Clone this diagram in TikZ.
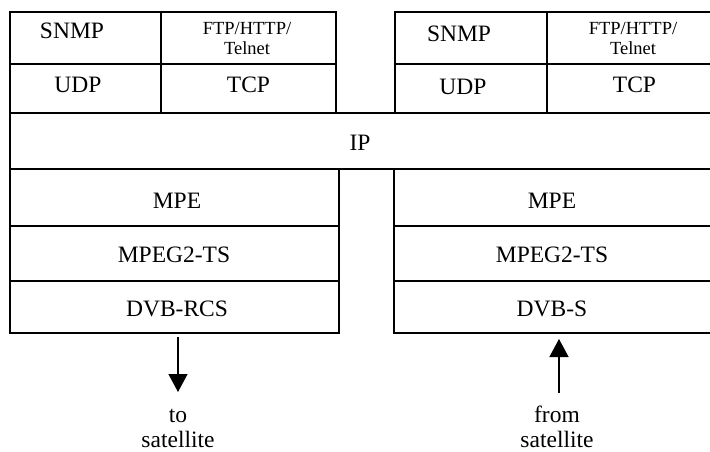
\documentclass[tikz,border=0pt]{standalone}
\usepackage{fontspec}
\setmainfont{Liberation Serif}
\usetikzlibrary{arrows.meta}
\begin{document}
\begin{tikzpicture}[x=1pt,y=-1pt,
  cell/.style={draw=black,line width=1.3pt,rectangle,inner sep=0pt,outer sep=0pt,anchor=north west},
  lbl/.style={anchor=base,inner sep=0pt,font=\fontsize{23.5}{28}\selectfont},
  sml/.style={anchor=base,inner sep=0pt,font=\fontsize{18.5}{22}\selectfont},
  arr/.style={line width=1.3pt,-{Triangle[width=19pt,length=18pt]}}]
\useasboundingbox (0,0) rectangle (710,452);
\fill[white] (0,0) rectangle (710,452);
% left upper stack
\node[cell,minimum width=151pt,minimum height=52pt] (snmpL) at (10,12) {};
\node[cell,minimum width=175pt,minimum height=52pt] (ftpL) at (161,12) {};
\node[cell,minimum width=151pt,minimum height=49pt] (udpL) at (10,64) {};
\node[cell,minimum width=175pt,minimum height=49pt] (tcpL) at (161,64) {};
% right upper stack
\node[cell,minimum width=152pt,minimum height=52pt] (snmpR) at (395,12) {};
\node[cell,minimum width=170pt,minimum height=52pt] (ftpR) at (547,12) {};
\node[cell,minimum width=152pt,minimum height=49pt] (udpR) at (395,64) {};
\node[cell,minimum width=170pt,minimum height=49pt] (tcpR) at (547,64) {};
% IP
\node[cell,minimum width=710pt,minimum height=56pt] (ip) at (10,113) {};
% left lower stack
\node[cell,minimum width=329pt,minimum height=57pt] (mpeL) at (10,169) {};
\node[cell,minimum width=329pt,minimum height=55pt] (tsL) at (10,226) {};
\node[cell,minimum width=329pt,minimum height=52pt] (rcs) at (10,281) {};
% right lower stack
\node[cell,minimum width=325pt,minimum height=57pt] (mpeR) at (394,169) {};
\node[cell,minimum width=325pt,minimum height=55pt] (tsR) at (394,226) {};
\node[cell,minimum width=325pt,minimum height=52pt] (dvbs) at (394,281) {};
% labels
\node[lbl] (tSNMPL) at (72,39) {SNMP};
\node[sml] (tFTPL) at (247,35) {FTP/HTTP/};
\node[sml] (tTelL) at (247,55) {Telnet};
\node[lbl] (tUDPL) at (78,92.5) {UDP};
\node[lbl] (tTCPL) at (248.5,92.5) {TCP};
\node[lbl] (tSNMPR) at (459,42) {SNMP};
\node[sml] (tFTPR) at (633,35) {FTP/HTTP/};
\node[sml] (tTelR) at (633,55) {Telnet};
\node[lbl] (tUDPR) at (463,95) {UDP};
\node[lbl] (tTCPR) at (634.5,92.5) {TCP};
\node[lbl] (tIP) at (360,150) {IP};
\node[lbl] (tMPEL) at (177,208) {MPE};
\node[lbl] (tTSL) at (174,262) {MPEG2-TS};
\node[lbl] (tRCS) at (177,316) {DVB-RCS};
\node[lbl] (tMPER) at (552,208) {MPE};
\node[lbl] (tTSR) at (552,262) {MPEG2-TS};
\node[lbl] (tDVBS) at (552,316) {DVB-S};
% bottom labels
\node[lbl] (to1) at (178,422) {to};
\node[lbl] (to2) at (178,447) {satellite};
\node[lbl] (from1) at (557,422) {from};
\node[lbl] (from2) at (557,447) {satellite};
% arrows
\coordinate (toTip) at (178,392);
\coordinate (fromTail) at (559,393);
\draw[arr] ([yshift=-4pt]rcs.south -| toTip) -- (toTip);
\draw[arr] (fromTail) -- ([yshift=-6pt]dvbs.south -| fromTail);
\end{tikzpicture}
\end{document}
